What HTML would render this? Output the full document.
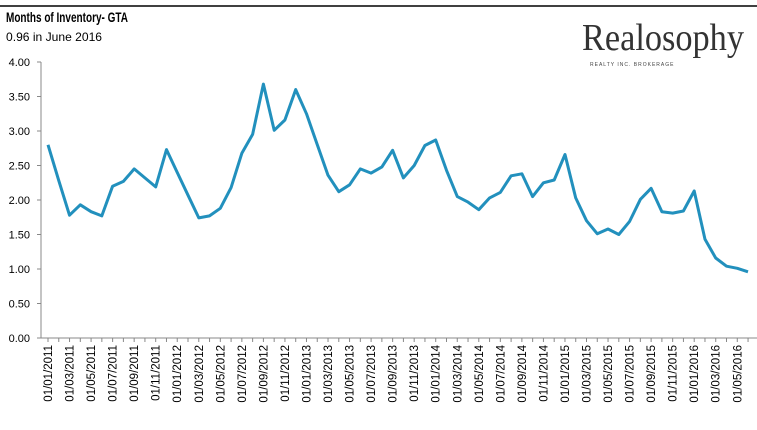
<!DOCTYPE html>
<html><head><meta charset="utf-8">
<style>
html,body{margin:0;padding:0;background:#fff;}
body{width:757px;height:425px;overflow:hidden;font-family:"Liberation Sans",sans-serif;}
</style></head>
<body>
<svg id="chart" width="757" height="425" xmlns="http://www.w3.org/2000/svg">
<line x1="0" y1="6" x2="757" y2="6" stroke="#000" stroke-width="1.5"/>
<text x="6" y="22" font-size="14" font-weight="bold" fill="#000" textLength="122" lengthAdjust="spacingAndGlyphs">Months of Inventory- GTA</text>
<text x="6" y="41" font-size="12" fill="#000" textLength="96" lengthAdjust="spacingAndGlyphs">0.96 in June 2016</text>
<text x="582" y="50" font-family="'Liberation Serif',serif" font-size="38" fill="#333" textLength="162" lengthAdjust="spacingAndGlyphs">Realosophy</text>
<text x="590" y="66" font-size="5" fill="#444" letter-spacing="1">REALTY INC. BROKERAGE</text>
<g id="axes"></g>
<g id="plot"></g>
</svg>
<script>
const startYear = 2011;
const values = [
2.80,2.28,1.78,1.93,1.83,1.77,2.20,2.27,2.45,2.32,2.19,2.73,
2.40,2.07,1.74,1.77,1.88,2.18,2.68,2.95,3.68,3.01,3.16,3.60,
3.25,2.80,2.36,2.12,2.22,2.45,2.39,2.48,2.72,2.32,2.50,2.79,
2.87,2.43,2.05,1.97,1.86,2.03,2.11,2.35,2.38,2.05,2.25,2.29,
2.66,2.03,1.70,1.51,1.58,1.50,1.69,2.01,2.17,1.83,1.81,1.84,
2.13,1.43,1.16,1.04,1.01,0.96];
const yTicks = [0,0.5,1,1.5,2,2.5,3,3.5,4];
const NS = "http://www.w3.org/2000/svg";
const axisX = 41, y0 = 338, y4 = 62;
function xs(i){ return 48 + i*10.77; }
function ys(v){ return y0 - (v/4)*(y0-y4); }
const axes = document.getElementById('axes');
const plot = document.getElementById('plot');
function mk(tag, attrs, parent){ const e=document.createElementNS(NS,tag); for(const k in attrs) e.setAttribute(k,attrs[k]); parent.appendChild(e); return e; }
const ya = mk('line',{x1:axisX,y1:y4,x2:axisX,y2:y0,stroke:'#888','stroke-width':1},axes);


const xa = mk('line',{x1:axisX,y1:y0,x2:757,y2:y0,stroke:'#888','stroke-width':1},axes);


yTicks.forEach(t=>{
  const y=ys(t);
  const tk=mk('line',{x1:axisX-4,y1:y,x2:axisX,y2:y,stroke:'#888'},axes);
  
  
  const tx=mk('text',{x:30,y:y+4,'font-size':11,'text-anchor':'end',fill:'#000'},axes);
  tx.textContent=t.toFixed(2);
  
  
});
values.forEach((v,i)=>{
  const x=xs(i);
  const tk=mk('line',{x1:x,y1:y0,x2:x,y2:y0+4,stroke:'#888'},axes);
  
  
  if(i%2===0){
    const m=(i%12)+1, yr=startYear+Math.floor(i/12);
    const lbl='01/'+String(m).padStart(2,'0')+'/'+yr;
    const tx=mk('text',{x:0,y:0,'font-size':11.5,'text-anchor':'end',fill:'#000',transform:'translate('+(x+4)+','+(y0+7)+') rotate(-90)'},axes);
    tx.textContent=lbl;
    
    
  }
});
const pts=values.map((v,i)=>xs(i).toFixed(1)+','+ys(v).toFixed(1)).join(' ');
const line=mk('polyline',{points:pts,fill:'none',stroke:'#2290bd','stroke-width':3,'stroke-linejoin':'round'},plot);


</script>
</body></html>
